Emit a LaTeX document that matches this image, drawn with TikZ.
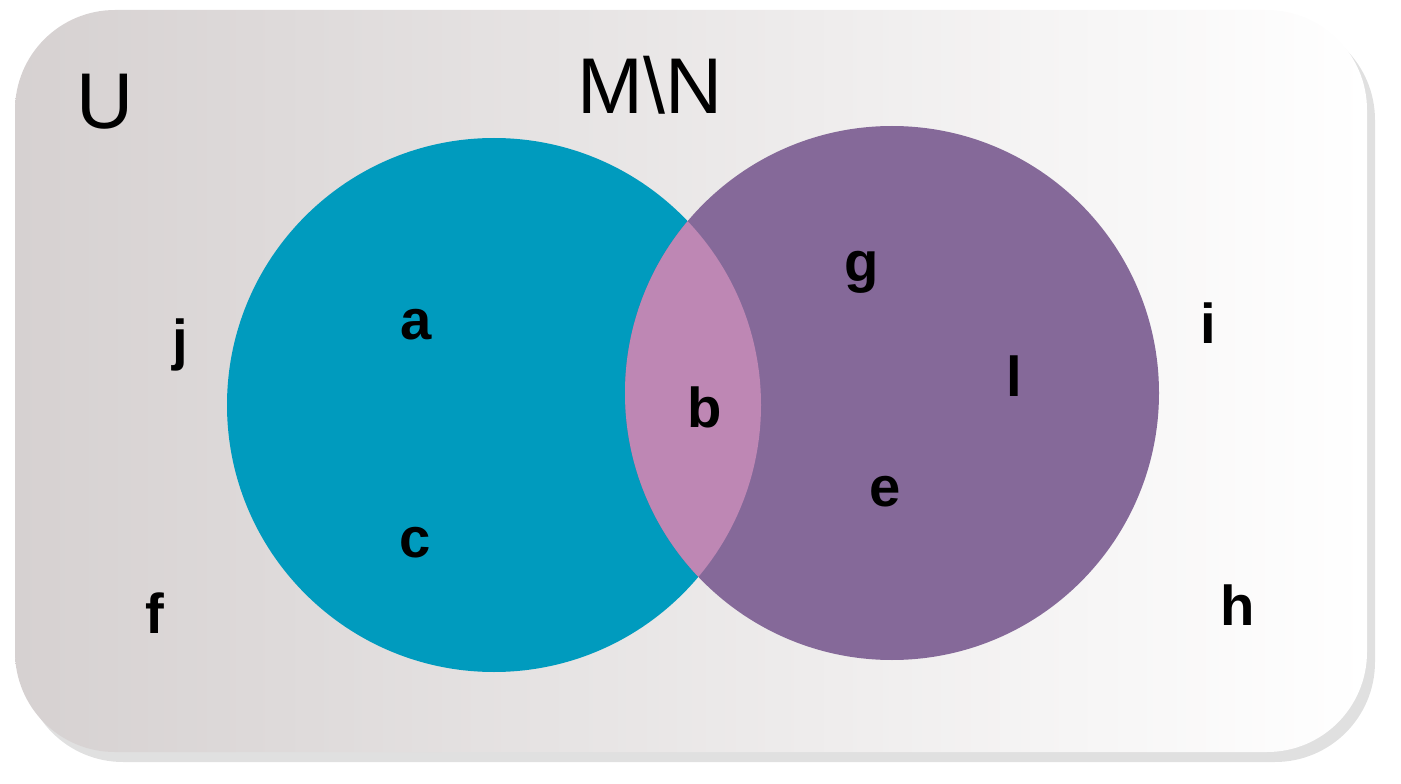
\documentclass[tikz,border=0pt]{standalone}
\usepackage{fontspec}
\setmainfont{Liberation Sans}
\begin{document}
\begin{tikzpicture}[x=0.02cm,y=-0.02cm,
  lbl/.style={font=\fontsize{32}{34}\selectfont\bfseries},
  big/.style={font=\fontsize{45}{48}\selectfont}]
\useasboundingbox (0,0) rectangle (1401,784);
\fill[black!12,rounded corners=100*0.02cm] (23,20) rectangle (1375,762);
\shade[left color={rgb,255:red,214;green,209;blue,209}, right color=white, rounded corners=100*0.02cm] (15,10) rectangle (1367,752);
\definecolor{teal}{RGB}{0,155,190}
\definecolor{purp}{RGB}{133,105,153}
\definecolor{mix}{RGB}{190,135,180}
\fill[teal] (494,405) circle (267);
\fill[purp] (892,393) circle (267);
\begin{scope}
\clip (494,405) circle (267);
\fill[mix] (892,393) circle (267);
\end{scope}
\node[big] (U) at (105,102) {U};
\node[big] (MN) at (650,85) {M\textbackslash N};
\node[lbl] (a) at (416,325) {a};
\node[lbl] (c) at (415,543) {c};
\node[lbl] (b) at (705,407) {b};
\node[lbl] (g) at (862,272) {g};
\node[lbl] (l) at (1014,376) {l};
\node[lbl] (e) at (885,492) {e};
\node[lbl] (j) at (180,345) {j};
\node[lbl] (f) at (155,613) {f};
\node[lbl] (i) at (1208,323) {i};
\node[lbl] (h) at (1238,605) {h};
\end{tikzpicture}
\end{document}
